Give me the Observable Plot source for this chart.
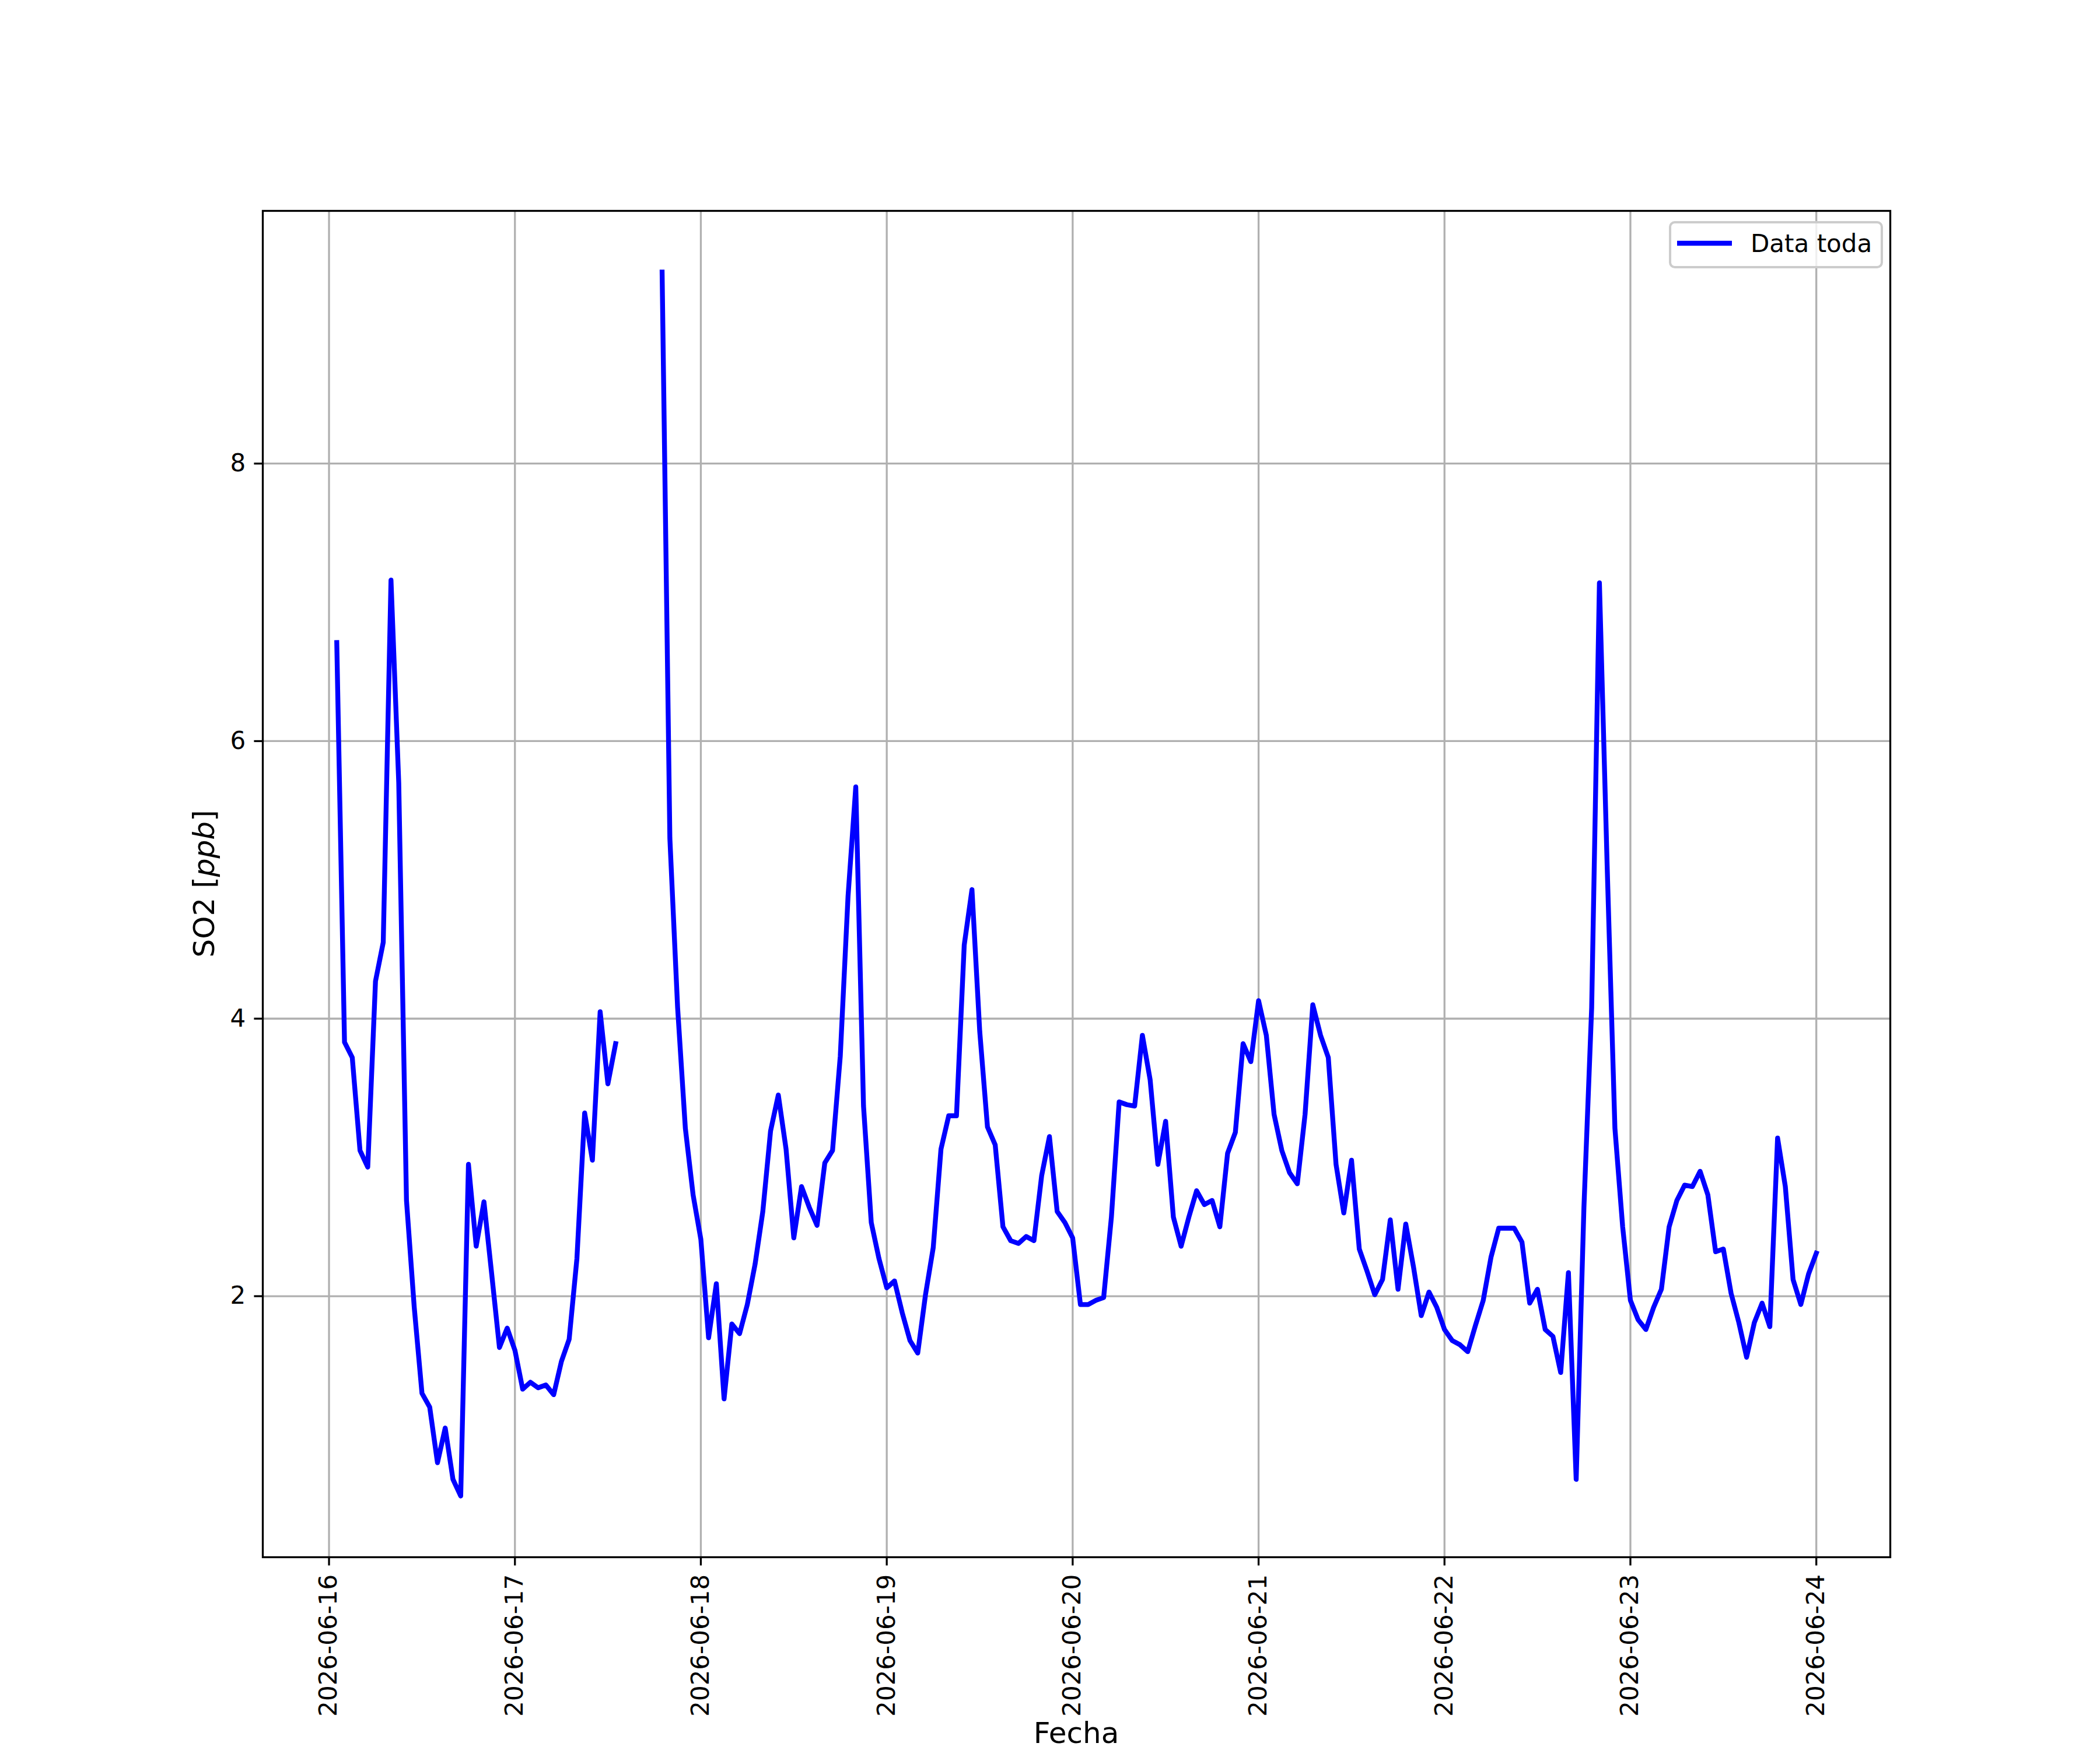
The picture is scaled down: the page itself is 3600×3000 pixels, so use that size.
<!DOCTYPE html>
<html>
<head>
<meta charset="utf-8">
<script src="https://cdn.jsdelivr.net/npm/d3@7"></script>
<script src="https://cdn.jsdelivr.net/npm/@observablehq/plot@0.6"></script>
<style>
  html, body { margin: 0; padding: 0; background: #ffffff; }
  #chart svg { display: block; }
</style>
</head>
<body>
<div id="chart"></div>
<script>
// ---- Data (hourly SO2 values, hour 0..23 of each day; null = no data) ----
const days = ["2026-06-16", "2026-06-17", "2026-06-18", "2026-06-19", "2026-06-20",
              "2026-06-21", "2026-06-22", "2026-06-23", "2026-06-24"];
const so2_0616 = [null, 6.71, 3.83, 3.72, 3.05, 2.93, 4.27, 4.55, 7.16, 5.70, 2.69, 1.92, 1.30, 1.20, 0.80, 1.05, 0.68, 0.56, 2.95, 2.36, 2.68, 2.16, 1.63, 1.77];
const so2_0617 = [1.61, 1.33, 1.38, 1.34, 1.36, 1.29, 1.53, 1.69, 2.27, 3.32, 2.98, 4.05, 3.53, 3.82, null, null, null, null, null, 9.38, 5.30, 4.08, 3.21, 2.73];
const so2_0618 = [2.41, 1.70, 2.09, 1.26, 1.80, 1.73, 1.94, 2.23, 2.61, 3.19, 3.45, 3.06, 2.42, 2.79, 2.64, 2.51, 2.96, 3.05, 3.73, 4.88, 5.67, 3.37, 2.53, 2.27];
const so2_0619 = [2.06, 2.11, 1.88, 1.68, 1.59, 2.01, 2.35, 3.06, 3.30, 3.30, 4.53, 4.93, 3.91, 3.22, 3.09, 2.50, 2.40, 2.38, 2.43, 2.40, 2.87, 3.15, 2.61, 2.53];
const so2_0620 = [2.42, 1.94, 1.94, 1.97, 1.99, 2.57, 3.40, 3.38, 3.37, 3.88, 3.56, 2.95, 3.26, 2.57, 2.36, 2.57, 2.76, 2.66, 2.69, 2.50, 3.03, 3.18, 3.82, 3.69];
const so2_0621 = [4.13, 3.88, 3.31, 3.05, 2.89, 2.81, 3.31, 4.10, 3.88, 3.72, 2.95, 2.60, 2.98, 2.34, 2.18, 2.01, 2.12, 2.55, 2.05, 2.52, 2.21, 1.86, 2.03, 1.92];
const so2_0622 = [1.76, 1.68, 1.65, 1.60, 1.79, 1.97, 2.28, 2.49, 2.49, 2.49, 2.39, 1.95, 2.05, 1.76, 1.71, 1.45, 2.17, 0.68, 2.64, 4.08, 7.14, 5.10, 3.21, 2.50];
const so2_0623 = [1.97, 1.83, 1.76, 1.92, 2.05, 2.50, 2.69, 2.80, 2.79, 2.90, 2.73, 2.32, 2.34, 2.02, 1.81, 1.56, 1.81, 1.95, 1.78, 3.14, 2.79, 2.12, 1.94, 2.16];
const so2_0624 = [2.31];

const yTicks = [2, 4, 6, 8];
const seriesName = "Data toda";
const xLabel = "Fecha";
const yLabelParts = ["SO2 [", "ppb", "]"];

// ---- Build table ----
const dayValues = [so2_0616, so2_0617, so2_0618, so2_0619, so2_0620, so2_0621, so2_0622, so2_0623, so2_0624];
const rows = [];
days.forEach((d, i) => {
  const base = Date.parse(d + "T00:00:00Z");
  dayValues[i].forEach((v, h) => {
    rows.push({date: new Date(base + h * 3600e3), value: v == null ? NaN : v});
  });
});
const valid = rows.filter(r => !isNaN(r.value));
const [t0, t1] = d3.extent(valid, r => +r.date);
const [v0, v1] = d3.extent(valid, r => r.value);
const xPad = (t1 - t0) * 0.05, yPad = (v1 - v0) * 0.05;
const xDomain = [new Date(t0 - xPad), new Date(t1 + xPad)];
const yDomain = [v0 - yPad, v1 + yPad];
const xTicks = days.map(d => new Date(d + "T00:00:00Z"));

// ---- Layout ----
const W = 3600, H = 3000;
const mL = 450, mR = 360, mT = 361, mB = 331;
const lineW = 8.33;
const grid = {stroke: "#b0b0b0", strokeOpacity: 1, strokeWidth: 3.3};

const svgNode = Plot.plot({
  width: W, height: H,
  marginLeft: mL, marginRight: mR, marginTop: mT, marginBottom: mB,
  style: {fontFamily: "'DejaVu Sans', sans-serif", fontSize: "42px", background: "#ffffff", color: "#000000", overflow: "visible"},
  x: {type: "utc", domain: xDomain},
  y: {type: "linear", domain: yDomain},
  marks: [
    Plot.gridX(xTicks, grid),
    Plot.gridY(yTicks, grid),
    Plot.line(rows, {x: "date", y: "value", stroke: "#0000ff", strokeWidth: lineW,
                     strokeLinejoin: "round", strokeLinecap: "square"}),
    Plot.frame({stroke: "#000000", strokeWidth: 3.3}),
    Plot.axisX(xTicks, {tickSize: 14.6, tickPadding: 14.6, tickRotate: -90,
                        tickFormat: d3.utcFormat("%Y-%m-%d"), label: null,
                        strokeWidth: 3.3, fontSize: 42}),
    Plot.axisY(yTicks, {tickSize: 14.6, tickPadding: 14.6, tickFormat: d => String(d),
                        label: null, strokeWidth: 3.3, fontSize: 42})
  ]
});

const svg = d3.select(svgNode);

// Axis labels
svg.append("text")
  .attr("x", mL + (W - mL - mR) / 2)
  .attr("y", 2988)
  .attr("text-anchor", "middle")
  .attr("font-size", 50)
  .attr("fill", "#000")
  .text(xLabel);

const yl = svg.append("text")
  .attr("transform", `translate(367,${mT + (H - mT - mB) / 2}) rotate(-90)`)
  .attr("text-anchor", "middle")
  .attr("font-size", 50)
  .attr("fill", "#000");
yl.append("tspan").text(yLabelParts[0]);
yl.append("tspan").attr("font-style", "italic").text(yLabelParts[1]);
yl.append("tspan").text(yLabelParts[2]);

// Legend (upper right)
const lgRight = W - mR - 14, lgTop = mT + 20, lgW = 363, lgH = 77;
const lg = svg.append("g");
lg.append("rect")
  .attr("x", lgRight - lgW).attr("y", lgTop)
  .attr("width", lgW).attr("height", lgH)
  .attr("rx", 8).attr("ry", 8)
  .attr("fill", "#ffffff").attr("fill-opacity", 0.8)
  .attr("stroke", "#cccccc").attr("stroke-width", 4);
lg.append("line")
  .attr("x1", lgRight - lgW + 12).attr("x2", lgRight - lgW + 106)
  .attr("y1", lgTop + 36).attr("y2", lgTop + 36)
  .attr("stroke", "#0000ff").attr("stroke-width", lineW);
lg.append("text")
  .attr("x", lgRight - lgW + 138).attr("y", lgTop + 51)
  .attr("text-anchor", "start")
  .attr("font-size", 42).attr("fill", "#000")
  .text(seriesName);

document.getElementById("chart").appendChild(svgNode);
</script>
</body>
</html>
